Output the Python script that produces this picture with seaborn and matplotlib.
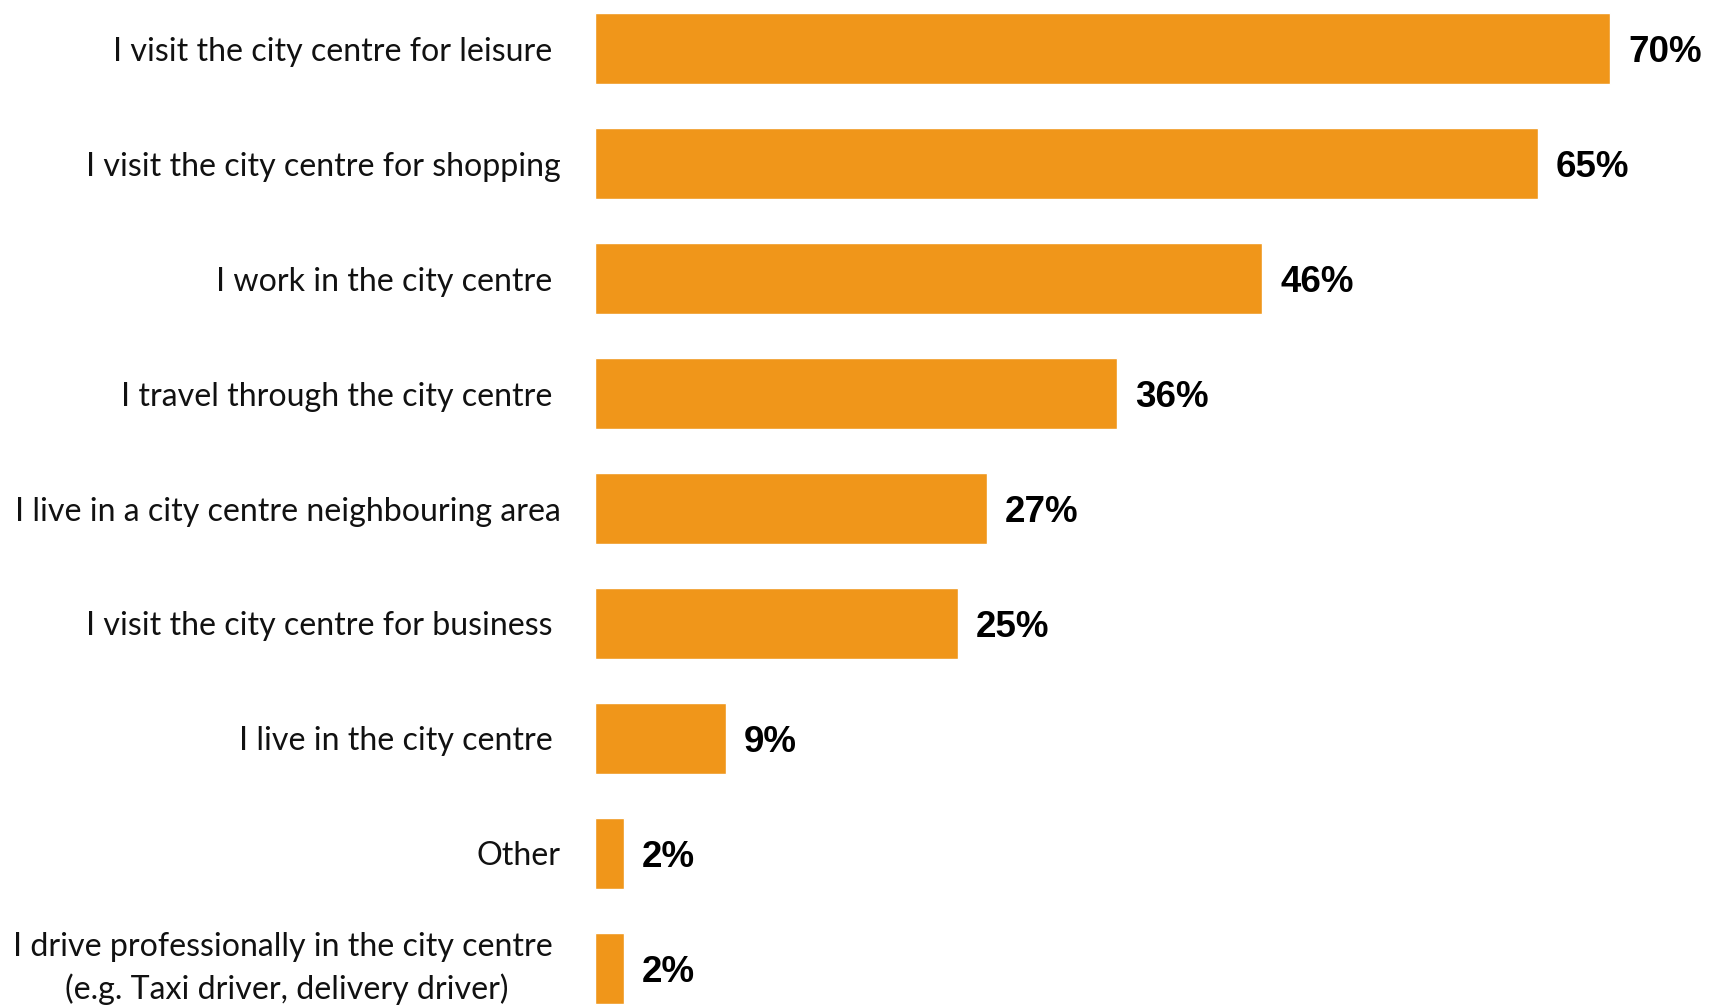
import matplotlib
matplotlib.use("Agg")
import matplotlib.pyplot as plt
import seaborn as sns
import pandas as pd

categories = [
    "I visit the city centre for leisure ",
    "I visit the city centre for shopping",
    "I work in the city centre ",
    "I travel through the city centre ",
    "I live in a city centre neighbouring area",
    "I visit the city centre for business ",
    "I live in the city centre ",
    "Other",
    "I drive professionally in the city centre \n(e.g. Taxi driver, delivery driver)",
]
values = [70, 65, 46, 36, 27, 25, 9, 2, 2]
value_labels = ["70%", "65%", "46%", "36%", "27%", "25%", "9%", "2%", "2%"]

df = pd.DataFrame({"reason": categories, "share": values})

sns.set_theme(style="white")
plt.rcParams["font.family"] = ["Lato", "DejaVu Sans"]

W, H = 1718, 1006
fig = plt.figure(figsize=(W / 100, H / 100), dpi=100)
left = 595 / W
ax = fig.add_axes([left, 0, 1 - left, 1])

bar_color = "#F0961A"
sns.barplot(data=df, y="reason", x="share", orient="h", color=bar_color,
            width=0.62, saturation=1, ax=ax)

ax.set_xlim(0, (W - 595) / 14.5)
ax.set_ylim(8.327, -0.423)
for s in ax.spines.values():
    s.set_visible(False)
ax.set_xticks([])
ax.set_xlabel("")
ax.set_ylabel("")
ax.tick_params(axis="y", length=0, pad=24.5, labelsize=23.1, labelcolor="#111111")
for t in ax.get_yticklabels():
    t.set_multialignment("center")
    if "\n" in t.get_text():
        t.set_linespacing(1.45)
        t.set_verticalalignment("center")

for i, (v, lab) in enumerate(zip(values, value_labels)):
    ax.annotate(lab, xy=(v, i), xytext=(13, 0), textcoords="offset points",
                ha="left", va="center_baseline", fontsize=26.5, fontweight="bold",
                family="Liberation Sans", color="#000000")

fig.savefig("out.png", dpi=100, facecolor="white")
